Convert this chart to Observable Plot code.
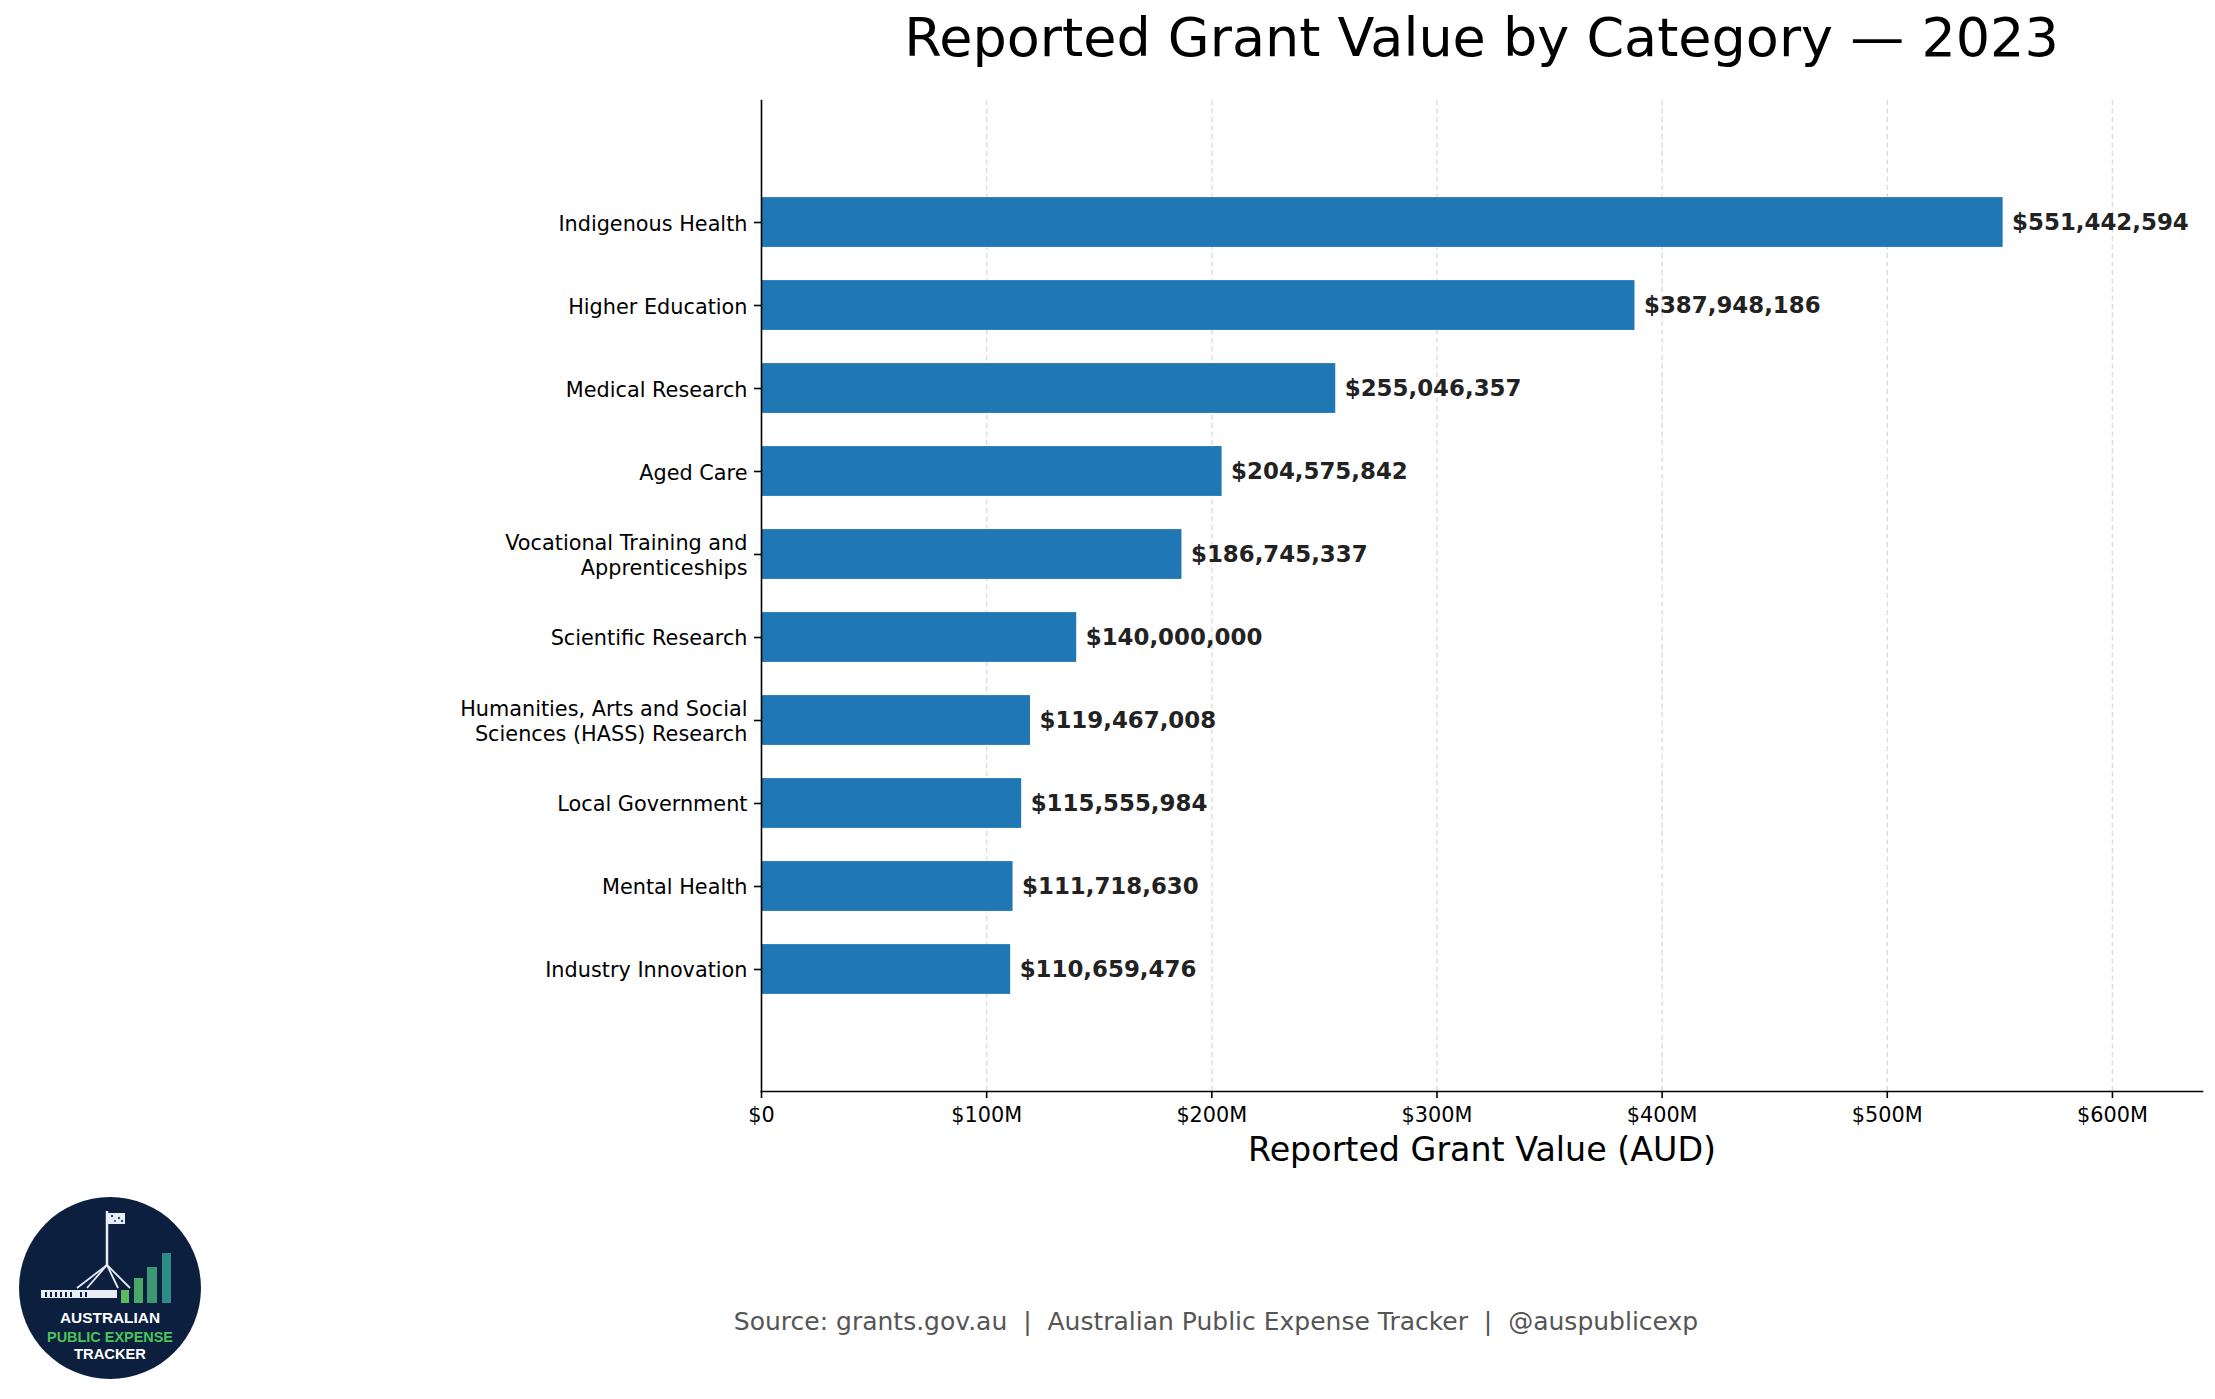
<!DOCTYPE html>
<html>
<head>
<meta charset="utf-8">
<script src="https://cdn.jsdelivr.net/npm/d3@7"></script>
<script src="https://cdn.jsdelivr.net/npm/@observablehq/plot@0.6"></script>
<style>
  html, body { margin: 0; padding: 0; background: #fff; overflow: hidden; }
  body { width: 2215px; height: 1399px; font-family: "DejaVu Sans", sans-serif; }
  #title { box-sizing: border-box; height: 90px; margin-left: 761px; width: 1441px; text-align: center;
           font-size: 54px; line-height: 54px; padding-top: 11px; color: #000; white-space: nowrap; }
  #chart svg { display: block; }
  #footer { position: relative; height: 209px; }
  #source { position: absolute; left: 1216px; top: 119px; transform: translateX(-50%); white-space: nowrap;
            font-size: 25px; line-height: 25px; color: #555; }
  #logo { position: absolute; left: 18px; top: 6px; }
</style>
</head>
<body>
<div id="title">Reported Grant Value by Category — 2023</div>
<div id="chart"></div>
<div id="footer">
  <svg id="logo" width="184" height="184" viewBox="-92 -92 184 184">
    <circle cx="0" cy="0" r="91" fill="#0c1f3f"/>
    <rect x="-3" y="-75" width="18" height="11" fill="#e8edf5"/>
    <g fill="#2b4a7a"><circle cx="2" cy="-72" r="1.2"/><circle cx="9" cy="-70" r="1.2"/><circle cx="12" cy="-67" r="1.2"/><circle cx="5" cy="-67" r="1"/></g>
    <line x1="-3" y1="-77" x2="-3" y2="-23" stroke="#e8edf5" stroke-width="2.5"/>
    <g stroke="#e8edf5" stroke-width="1.8" fill="none">
      <line x1="-3" y1="-23" x2="-33" y2="0"/>
      <line x1="-3" y1="-23" x2="-23" y2="0"/>
      <line x1="-3" y1="-23" x2="8" y2="0"/>
      <line x1="-3" y1="-23" x2="20" y2="0"/>
    </g>
    <rect x="-69" y="2" width="76" height="8" fill="#e8edf5"/>
    <g fill="#0c1f3f">
      <rect x="-65" y="4" width="2" height="5"/><rect x="-60" y="4" width="2" height="5"/>
      <rect x="-55" y="4" width="2" height="5"/><rect x="-50" y="4" width="2" height="5"/>
      <rect x="-45" y="4" width="2" height="5"/><rect x="-40" y="4" width="2" height="5"/>
      <rect x="-30" y="4" width="2" height="5"/><rect x="-25" y="4" width="2" height="5"/>
    </g>
    <rect x="11" y="2" width="8" height="13" fill="#5dbb5e"/>
    <rect x="24" y="-10" width="9" height="25" fill="#4aa864"/>
    <rect x="37" y="-21" width="10" height="36" fill="#3e9672"/>
    <rect x="52" y="-35" width="9" height="50" fill="#2e8b86"/>
    <g font-family="'Liberation Sans', 'DejaVu Sans', sans-serif" font-weight="bold" text-anchor="middle" font-size="15">
      <text x="0" y="35" fill="#ffffff" textLength="100" lengthAdjust="spacingAndGlyphs">AUSTRALIAN</text>
      <text x="0" y="54" fill="#4cc35a" textLength="126" lengthAdjust="spacingAndGlyphs">PUBLIC EXPENSE</text>
      <text x="0" y="71" fill="#ffffff" textLength="72" lengthAdjust="spacingAndGlyphs">TRACKER</text>
    </g>
  </svg>
  <div id="source">Source: grants.gov.au&nbsp;&nbsp;|&nbsp;&nbsp;Australian Public Expense Tracker&nbsp;&nbsp;|&nbsp;&nbsp;@auspublicexp</div>
</div>
<script>
const categories = [
  "Indigenous Health",
  "Higher Education",
  "Medical Research",
  "Aged Care",
  "Vocational Training and\nApprenticeships",
  "Scientific Research",
  "Humanities, Arts and Social\nSciences (HASS) Research",
  "Local Government",
  "Mental Health",
  "Industry Innovation"
];
const values = [551442594, 387948186, 255046357, 204575842, 186745337, 140000000, 119467008, 115555984, 111718630, 110659476];
const xTicks = [0, 100e6, 200e6, 300e6, 400e6, 500e6, 600e6];
const xTickLabels = ["$0", "$100M", "$200M", "$300M", "$400M", "$500M", "$600M"];
const xLabel = "Reported Grant Value (AUD)";

const data = categories.map((c, i) => ({category: c, value: values[i]}));
const fmt = d3.format(",");

const chart = Plot.plot({
  width: 2215,
  height: 1100,
  marginTop: 10,
  marginBottom: 99,
  marginLeft: 761,
  marginRight: 13,
  style: {fontFamily: "'DejaVu Sans', sans-serif", fontSize: "20.8px", color: "#000", background: "#fff"},
  x: {domain: [0, 640e6], label: null},
  y: {domain: categories, paddingInner: 0.4, paddingOuter: 1.17, round: false, label: null},
  marks: [
    Plot.ruleX(xTicks.slice(1), {stroke: "#dcdcdc", strokeWidth: 1.4, strokeDasharray: "5,3.5"}),
    Plot.barX(data, {x: "value", y: "category", fill: "#1f77b4"}),
    Plot.text(data, {x: "value", y: "category", text: d => "$" + fmt(d.value), textAnchor: "start", dx: 9,
      fontWeight: "bold", fontSize: 22.9, fill: "#222"}),
    Plot.axisX({ticks: xTicks, tickFormat: (d, i) => xTickLabels[xTicks.indexOf(d)], tickSize: 7, tickPadding: 9,
      label: null, stroke: "#000", strokeWidth: 1.6}),
    Plot.axisY({tickSize: 7, tickPadding: 7, label: null, lineHeight: 1.2, stroke: "#000", strokeWidth: 1.6}),
    Plot.frame({anchor: "left", stroke: "#000", strokeWidth: 1.6}),
    Plot.frame({anchor: "bottom", stroke: "#000", strokeWidth: 1.6}),
    Plot.text([xLabel], {frameAnchor: "bottom", dy: 59, fontSize: 33.3, lineAnchor: "middle", fill: "#000"})
  ]
});
document.getElementById("chart").appendChild(chart);
</script>
</body>
</html>
